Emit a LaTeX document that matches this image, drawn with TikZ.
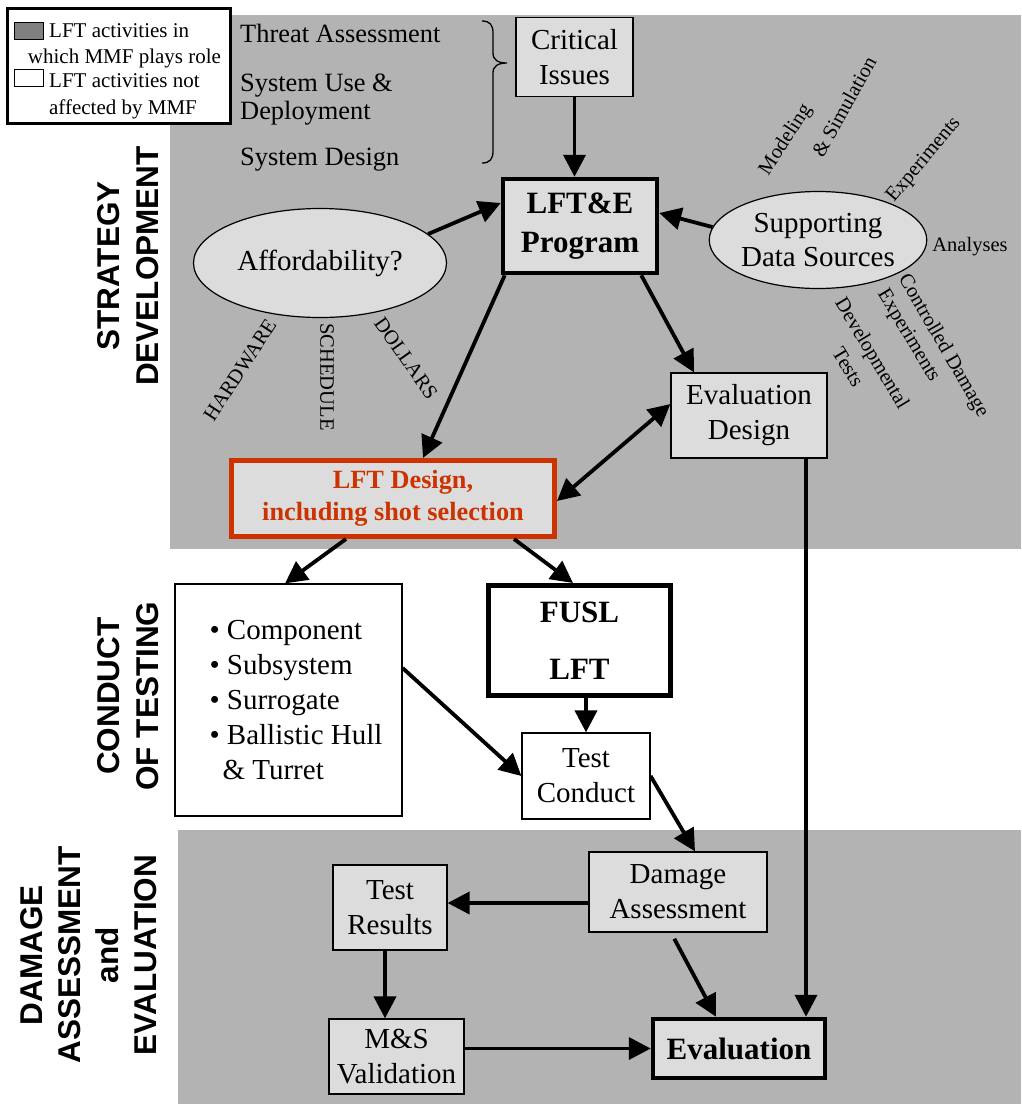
\documentclass[tikz,border=0pt]{standalone}
\usepackage{fontspec}
\setmainfont{Liberation Serif}
\setsansfont{Liberation Sans}
\usetikzlibrary{arrows.meta,shapes.geometric,calc}
\definecolor{bggray}{RGB}{179,179,179}
\definecolor{boxfill}{RGB}{220,220,220}
\definecolor{legdark}{RGB}{128,128,128}
\definecolor{lftred}{RGB}{204,51,0}
\tikzset{
  txt/.style={font=\fontsize{29}{35}\selectfont, align=center, inner sep=0pt},
  graybox/.style={draw, line width=1.2pt, fill=boxfill, txt},
  whitebox/.style={draw, line width=1.2pt, fill=white, txt},
  ell/.style={ellipse, draw, line width=1.2pt, fill=boxfill, txt},
  conn/.style={line width=3.8pt, -{Triangle[length=22pt,width=22pt]}},
  conntwo/.style={line width=3.8pt, {Triangle[length=22pt,width=22pt]}-{Triangle[length=22pt,width=22pt]}},
  sidetxt/.style={font=\fontsize{26.4}{31}\selectfont, anchor=base west, inner sep=0pt},
  smalltxt/.style={font=\fontsize{20.5}{25}\selectfont, inner sep=0pt},
  section/.style={font=\sffamily\bfseries\fontsize{31.5}{39}\selectfont, rotate=90, align=center, inner sep=0pt},
  legtxt/.style={font=\fontsize{21}{25}\selectfont, inner sep=0pt},
}
\begin{document}
\begin{tikzpicture}[x=1pt,y=-1pt]
\useasboundingbox (0,0) rectangle (1021,1104);
\fill[white] (0,0) rectangle (1021,1104);
% backgrounds
\fill[bggray] (170,15) rectangle (1021,549);
\fill[bggray] (178,830) rectangle (1021,1104);

% legend
\node[draw, line width=2.7pt, fill=white, minimum width=223pt, minimum height=115pt, inner sep=0pt] (legend) at (119,66) {};
\node[draw, line width=1pt, fill=legdark, minimum width=29pt, minimum height=17pt, inner sep=0pt] (legdk) at (28.5,30.5) {};
\node[draw, line width=1pt, fill=white, minimum width=29pt, minimum height=17pt, inner sep=0pt] (legwt) at (28.5,78) {};
\node[legtxt, anchor=base west] (leg1) at (49,37) {LFT activities in};
\node[legtxt, anchor=base] (leg2) at (124.5,63) {which MMF plays role};
\node[legtxt, anchor=base west] (leg3) at (49,87) {LFT activities not};
\node[legtxt, anchor=base] (leg4) at (123,114) {affected by MMF};

% section labels
\node[section] (strat) at (128.5,266) {STRATEGY\\DEVELOPMENT};
\node[section] (cond) at (128.5,696) {CONDUCT\\OF TESTING};
\node[section, font=\sffamily\bfseries\fontsize{31.5}{38}\selectfont] (dam) at (89,955) {DAMAGE\\ASSESSMENT\\and\\EVALUATION};

% side texts and brace
\node[sidetxt] (threat) at (240,42) {Threat Assessment};
\node[sidetxt] (sysuse) at (240,91) {System Use \&};
\node[sidetxt] (deploy) at (240,119) {Deployment};
\node[sidetxt] (sysdes) at (240,165) {System Design};
\draw[line width=1.3pt] (482,21) .. controls (490,21) and (493,25) .. (493,33) -- (493,53) .. controls (493,60) and (498,63) .. (507,63) .. controls (498,63) and (493,66) .. (493,73) -- (493,151) .. controls (493,159) and (490,163) .. (482,163);

% main nodes
\node[graybox, minimum width=117pt, minimum height=79pt] (crit) at (574.5,57) {Critical\\Issues};
\node[graybox, line width=4.5pt, minimum width=154pt, minimum height=94pt, font=\bfseries\fontsize{31}{39}\selectfont] (prog) at (580,226) {\raisebox{-4pt}{LFT\&E}\\\raisebox{-4pt}{Program}};
\node[ell, minimum width=253pt, minimum height=109pt] (afford) at (320,263) {Affordability?};
\node[ell, minimum width=209pt, minimum height=97pt, font=\fontsize{29}{34}\selectfont] (supp) at (818,240) {Supporting\\Data Sources};
\node[graybox, minimum width=156pt, minimum height=85pt] (evald) at (749,415.5) {Evaluation\\Design};
\node[draw=lftred, line width=5pt, fill=boxfill, minimum width=323pt, minimum height=76pt, font=\bfseries\fontsize{26.3}{32}\selectfont, text=lftred, align=center, inner sep=0pt] (lftd) at (393,498.5) {\hspace*{20pt}LFT Design,\\including shot selection};
\node[whitebox, minimum width=227pt, minimum height=232pt] (bullets) at (288.5,700) {};
\node[txt, align=left] (bulletlist) at (296,700) {\textbullet\ Component\\\textbullet\ Subsystem\\\textbullet\ Surrogate\\\textbullet\ Ballistic Hull\\\hspace*{13pt}\& Turret};
\node[draw, line width=5pt, fill=white, minimum width=182pt, minimum height=110pt, font=\bfseries\fontsize{31}{57}\selectfont, align=center, inner sep=0pt] (fusl) at (579.5,640.5) {FUSL\\LFT};
\node[whitebox, minimum width=128pt, minimum height=86pt] (tc) at (586,776) {Test\\Conduct};
\node[graybox, minimum width=178pt, minimum height=80pt] (dmg) at (678,892) {Damage\\Assessment};
\node[graybox, minimum width=114pt, minimum height=85pt] (tr) at (390,907.5) {Test\\Results};
\node[graybox, minimum width=135pt, minimum height=75pt] (ms) at (396.5,1056.5) {M\&S\\Validation};
\node[graybox, line width=4.5pt, minimum width=172pt, minimum height=59pt, font=\bfseries\fontsize{31}{36}\selectfont] (eval) at (739,1048.5) {Evaluation};

% labels around ellipses
\node[smalltxt, rotate=57] (hw) at (240,370) {HARDWARE};
\node[smalltxt, rotate=-90] (sched) at (327,377) {SCHEDULE};
\node[smalltxt, rotate=-55] (doll) at (406,358) {DOLLARS};
\node[smalltxt, rotate=57] (model) at (786,140) {Modeling};
\node[smalltxt, rotate=61] (simul) at (844,107) {\& Simulation};
\node[smalltxt, rotate=50] (expup) at (924,160) {Experiments};
\node[smalltxt] (anal) at (970,247) {Analyses};
\node[smalltxt, rotate=-60] (contr) at (943,346) {Controlled Damage};
\node[smalltxt, rotate=-59] (explo) at (908,336) {Experiments};
\node[smalltxt, rotate=-59] (devel) at (871,354) {Developmental};
\node[smalltxt, rotate=-59] (tests) at (848,367) {Tests};

% connectors
\draw[conn] (crit.south) -- (crit.south |- prog.north);
\draw[conn] (afford.15) -- ([yshift=23pt]prog.west);
\draw[conn] (supp.173) -- ([yshift=13pt]prog.east);
\draw[conn] ([xshift=4pt]prog.south west) -- ([xshift=30pt]lftd.north);
\draw[conn] ([xshift=-18pt]prog.south east) -- ([xshift=-55pt]evald.north);
\draw[conntwo] ([yshift=-2.5pt]lftd.east) -- ([yshift=11.5pt]evald.west);
\draw[conn] ([xshift=-47pt]lftd.south) -- ([xshift=-3.5pt]bullets.north);
\draw[conn] ([xshift=121pt]lftd.south) -- ([xshift=-6.5pt]fusl.north);
\draw[conn] (tc.north |- fusl.south) -- (tc.north);
\draw[conn] ([yshift=32pt]bullets.east) -- (tc.west);
\draw[conn] (tc.east) -- ([xshift=17pt]dmg.north);
\coordinate (dtr) at ($(dmg.west)+(0,11)$);
\draw[conn] (dtr) -- (dtr -| tr.east);
\coordinate (trs) at ($(tr.south)+(-5,0)$);
\draw[conn] (trs) -- (trs |- ms.north);
\draw[conn] (ms.east |- eval.west) -- (eval.west);
\draw[conn, shorten <=7pt] ([xshift=-7pt]dmg.south) -- ([xshift=-23pt]eval.north);
\coordinate (eds) at ($(evald.south)+(57,0)$);
\draw[conn] (eds) -- (eds |- eval.north);
\end{tikzpicture}
\end{document}
